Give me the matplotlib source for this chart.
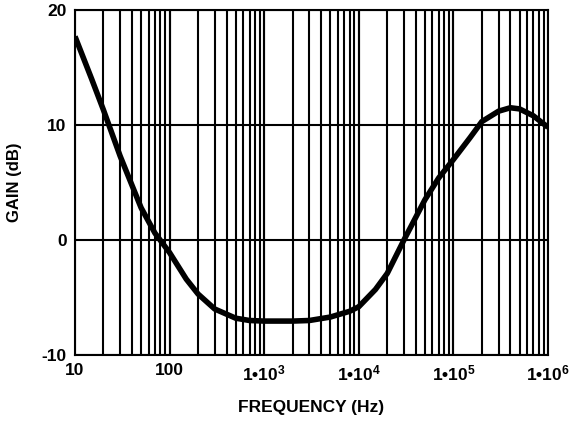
import numpy as np
import matplotlib
matplotlib.use('Agg')
import matplotlib.pyplot as plt
from matplotlib import rcParams

rcParams['font.family'] = 'Liberation Sans'
rcParams['font.weight'] = 'bold'
rcParams['axes.unicode_minus'] = False
rcParams['mathtext.fontset'] = 'custom'
rcParams['mathtext.rm'] = 'Liberation Sans:bold'
rcParams['mathtext.bf'] = 'Liberation Sans:bold'
rcParams['mathtext.default'] = 'bf'

# gain curve
freq = [10, 15, 20, 30, 50, 70, 100, 150, 200, 300, 500, 700, 1000, 2000, 3000,
        5000, 8000, 10000, 15000, 20000, 30000, 50000, 70000, 100000, 150000,
        200000, 300000, 400000, 500000, 700000, 1000000]
gain = [17.7, 14.0, 11.3, 7.3, 2.8, 0.6, -1.1, -3.4, -4.7, -6.0, -6.8, -7.0, -7.05, -7.05, -7.0,
        -6.7, -6.2, -5.8, -4.3, -2.9, 0.0, 3.5, 5.4, 7.0, 8.9,
        10.3, 11.2, 11.5, 11.4, 10.8, 9.8]

xticks = [10, 100, 1e3, 1e4, 1e5, 1e6]
xticklabels = ['10', '100', r'1•10$^3$', r'1•10$^4$', r'1•10$^5$', r'1•10$^6$']
yticks = [-10, 0, 10, 20]

fig = plt.figure(figsize=(5.73, 4.21), dpi=100)
ax = fig.add_axes([75/573, 66/421, 473/573, 345/421])

# vertical grid at every decade subdivision
for dec in [10, 100, 1e3, 1e4, 1e5]:
    for m in range(1, 11):
        ax.axvline(dec*m, color='black', linewidth=1.5, zorder=1)
for y in yticks:
    ax.axhline(y, color='black', linewidth=1.5, zorder=1)

ax.plot(freq, gain, color='black', linewidth=4.0, solid_capstyle='butt', zorder=3)

ax.set_xscale('log')
ax.set_xlim(10, 1e6)
ax.set_ylim(-10, 20)
ax.set_xticks(xticks)
ax.set_xticklabels(xticklabels)
ax.minorticks_off()
ax.set_yticks(yticks)
ax.tick_params(length=0, labelsize=12.5, pad=6)
for s in ax.spines.values():
    s.set_linewidth(1.5)

ax.set_xlabel('FREQUENCY (Hz)', fontsize=12.5, fontweight='bold', labelpad=12)
ax.set_ylabel('GAIN (dB)', fontsize=12, fontweight='bold', labelpad=14)

fig.savefig('out.png', dpi=100)
